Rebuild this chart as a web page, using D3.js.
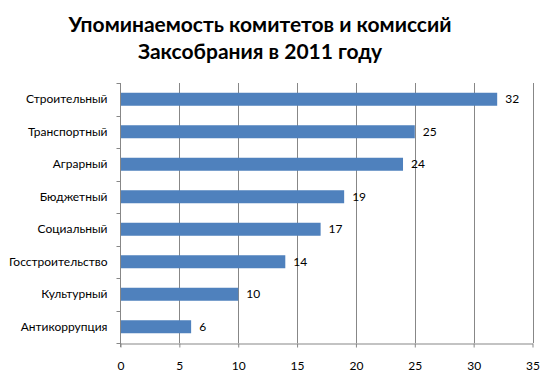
<!DOCTYPE html>
<html><head><meta charset="utf-8">
<script src="https://cdn.jsdelivr.net/npm/d3@7"></script>
<style>body{margin:0;background:#fff}svg{display:block}</style>
</head><body>
<script>
const categories = ["Строительный","Транспортный","Аграрный","Бюджетный","Социальный","Госстроительство","Культурный","Антикоррупция"];
const values = [32,25,24,19,17,14,10,6];
const xTicks = [0,5,10,15,20,25,30,35];
const titleLines = ["Упоминаемость комитетов и комиссий","Заксобрания в 2011 году"];

const W=552,H=384;
const svg=d3.select("body").append("svg").attr("width",W).attr("height",H);
const font="Lato, 'Open Sans', sans-serif";
const m={left:120.5,right:532.5,top:83,bottom:343};
const x=d3.scaleLinear().domain([0,35]).range([m.left,m.right]);
const y=d3.scaleBand().domain(categories).range([m.top,m.bottom]).paddingInner(0.6).paddingOuter(0.3);
const yb=d3.scaleBand().domain(categories).range([m.top,m.bottom]);

// gridlines
svg.append("g").selectAll("line").data(xTicks.slice(1)).join("line")
 .attr("x1",d=>Math.round(x(d))+0.5).attr("x2",d=>Math.round(x(d))+0.5)
 .attr("y1",m.top).attr("y2",m.bottom).attr("stroke","#878787").attr("stroke-width",1);

// bars
svg.append("g").selectAll("rect").data(categories).join("rect")
 .attr("x",x(0)).attr("y",d=>y(d)).attr("width",(d,i)=>x(values[i])-x(0)).attr("height",y.bandwidth())
 .attr("fill","#4F81BD");

// x axis
const xa=svg.append("g").attr("transform",`translate(0,${m.bottom+0.5})`)
 .call(d3.axisBottom(x).tickValues(xTicks).tickSize(4).tickPadding(14).tickSizeOuter(0));
xa.select(".domain").attr("stroke","#878787");
xa.selectAll(".tick line").attr("stroke","#878787");
xa.selectAll("text").attr("font-family",font).attr("font-size",12).attr("fill","#000");

// y axis
const ya=svg.append("g").attr("transform",`translate(${m.left},0)`);
ya.append("line").attr("x1",0).attr("x2",0).attr("y1",m.top).attr("y2",m.bottom+4).attr("stroke","#878787");
ya.selectAll(".tk").data(categories.concat(["_end"])).join("line")
 .attr("x1",-4).attr("x2",0)
 .attr("y1",(d,i)=>Math.round(m.top+i*yb.step())+0.5).attr("y2",(d,i)=>Math.round(m.top+i*yb.step())+0.5)
 .attr("stroke","#878787");
ya.selectAll("text").data(categories).join("text")
 .attr("x",-13).attr("y",d=>yb(d)+yb.bandwidth()/2).attr("dy","0.35em")
 .attr("text-anchor","end").attr("font-family",font).attr("font-size",12).attr("fill","#000").text(d=>d);

// value labels
svg.append("g").selectAll("text").data(categories).join("text")
 .attr("x",(d,i)=>x(values[i])+8).attr("y",d=>y(d)+y.bandwidth()/2).attr("dy","0.35em")
 .attr("font-family",font).attr("font-size",12).attr("fill","#000").text((d,i)=>values[i]);

// title
svg.append("g").selectAll("text").data(titleLines).join("text")
 .attr("x",260).attr("y",(d,i)=>25+i*27).attr("dy","0.35em").attr("text-anchor","middle")
 .attr("font-family",font).attr("font-weight","bold").attr("font-size",21).attr("fill","#000").text(d=>d);
</script>
</body></html>
